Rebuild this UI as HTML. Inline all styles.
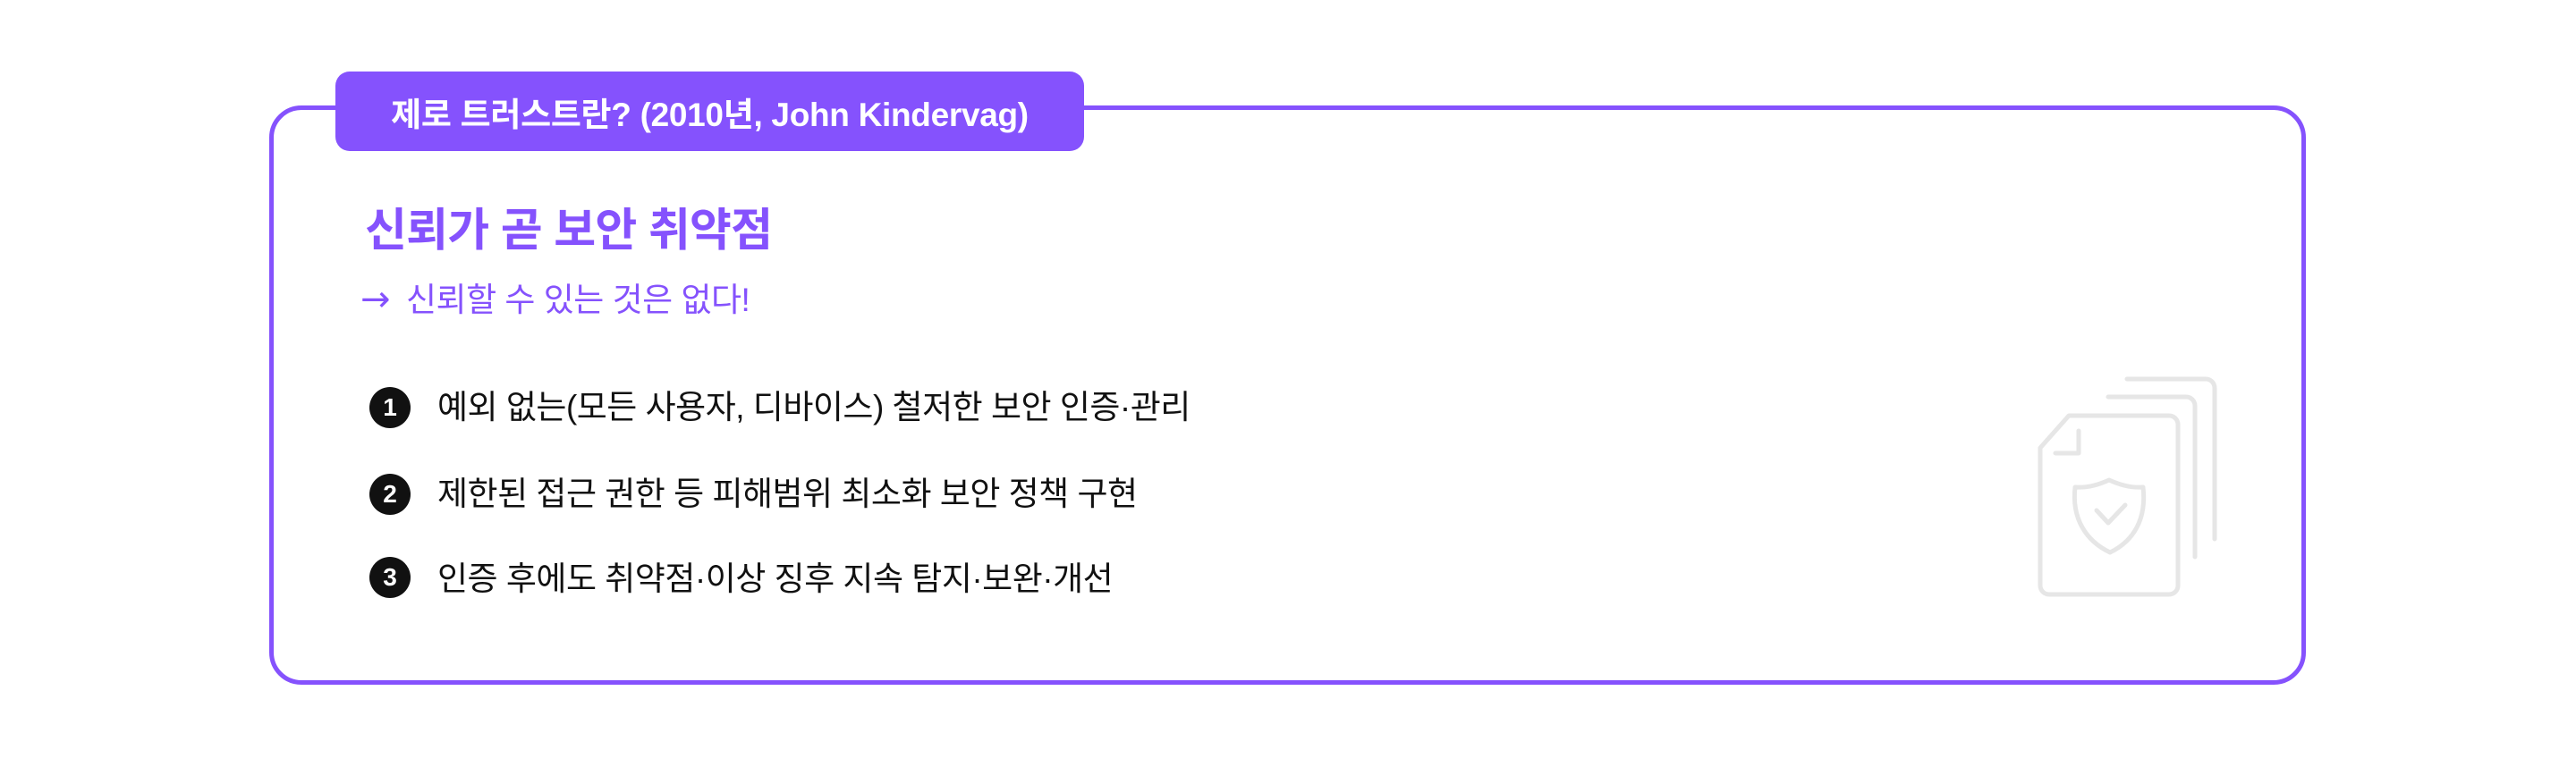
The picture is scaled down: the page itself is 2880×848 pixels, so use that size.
<!DOCTYPE html>
<html><head><meta charset="utf-8"><style>
html,body{margin:0;padding:0;background:#fff;}
body{width:2880px;height:848px;position:relative;overflow:hidden;font-family:"Liberation Sans","Noto Sans CJK KR",sans-serif;}
.box{position:absolute;left:301px;top:118px;width:2277px;height:648px;border:5px solid #8552fd;border-radius:36px;box-sizing:border-box;}
.tab{position:absolute;left:375px;top:80px;width:837px;height:89px;background:#8552fd;border-radius:16px;color:#fff;font-size:37px;font-weight:700;display:flex;align-items:center;justify-content:center;letter-spacing:-0.3px;}
.t{position:absolute;white-space:nowrap;}
.title{left:408px;top:226px;font-size:51px;font-weight:700;color:#8552fd;line-height:64px;letter-spacing:-0.8px;}
.sub{left:403px;top:312px;font-size:37px;color:#8552fd;line-height:46px;letter-spacing:-0.5px;}
.sub .ar{font-family:"DejaVu Sans",sans-serif;font-size:40px;margin-right:18px;}
.item{left:489px;font-size:37px;color:#111;line-height:44px;letter-spacing:-0.5px;}
.num{position:absolute;left:413px;width:46px;height:46px;border-radius:50%;background:#111;color:#fff;font-size:28px;font-weight:600;display:flex;align-items:center;justify-content:center;}
</style></head><body>
<div class="box"></div>
<div class="tab">제로 트러스트란? (2010년, John Kindervag)</div>
<div class="t title">신뢰가 곧 보안 취약점</div>
<div class="t sub"><span class="ar">→</span>신뢰할 수 있는 것은 없다!</div>
<div class="num" style="top:433px">1</div>
<div class="t item" style="top:434px">예외 없는(모든 사용자, 디바이스) 철저한 보안 인증·관리</div>
<div class="num" style="top:530px">2</div>
<div class="t item" style="top:531px">제한된 접근 권한 등 피해범위 최소화 보안 정책 구현</div>
<div class="num" style="top:623px">3</div>
<div class="t item" style="top:626px">인증 후에도 취약점·이상 징후 지속 탐지·보완·개선</div>
<svg style="position:absolute;left:0;top:0" width="2880" height="848">
<g fill="none" stroke="#e6e6e6" stroke-width="5" stroke-linecap="round" stroke-linejoin="round">
<path d="M2313 465 H2425 a10 10 0 0 1 10 10 V655 a10 10 0 0 1 -10 10 H2291 a10 10 0 0 1 -10 -10 V501 Z"/>
<path d="M2324 482 V507 H2298"/>
<path d="M2357 444 H2444 a10 10 0 0 1 10 10 V623"/>
<path d="M2378 424 H2466 a10 10 0 0 1 10 10 V603"/>
<path d="M2358 537 C2345 543 2333 546 2320 545 C2316 580 2332 605 2359 618 C2386 605 2400 580 2396 545 C2383 546 2371 543 2358 537 Z"/>
<path d="M2344 571 L2357 585 L2376 565"/>
</g></svg>
</body></html>
